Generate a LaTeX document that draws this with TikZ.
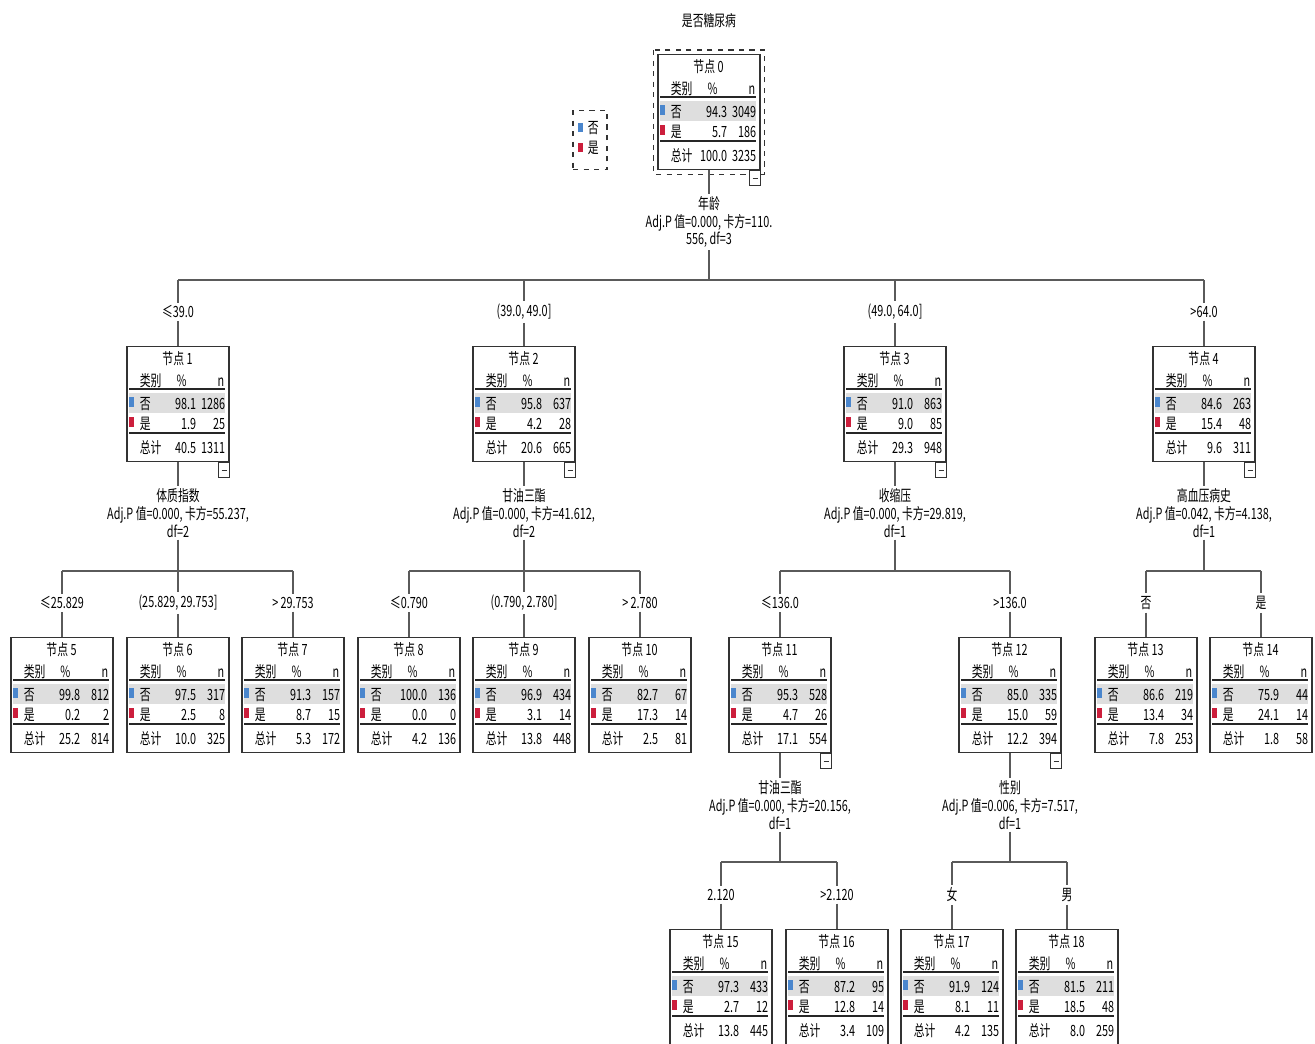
\documentclass[tikz,border=0pt]{standalone}
\usepackage{fontspec}
\setmainfont{Noto Sans CJK SC}[FakeStretch=0.7]
\usetikzlibrary{calc,positioning}
\definecolor{nocol}{RGB}{74,134,205}
\definecolor{yescol}{RGB}{204,30,60}
\definecolor{rowgray}{RGB}{222,222,222}
\definecolor{linkgray}{RGB}{90,90,90}
\tikzset{
  treebox/.style={draw=black!80,line width=0.6pt,fill=white,inner sep=0pt,
    minimum width=2.04cm,minimum height=2.3cm,anchor=north},
  cell/.style={inner sep=0pt,text height=6.5pt,text depth=1pt},
  rule/.style={line width=0.9pt,black!85},
  link/.style={linkgray,line width=0.6pt},
  split/.style={align=center,inner sep=1pt,font=\fontsize{8.8}{10.2}\selectfont},
  branch/.style={inner sep=1.5pt,fill=white}
}
% one tree node: name, position, number, no %, no n, yes %, yes n, total %, total n
\newcommand{\treenode}[9]{%
  \node[treebox] (#1) at #2 {};
  \fill[rowgray] ($(#1.north west)+(3,47)$) rectangle ($(#1.north west)+(99,67)$);
  \draw[rule] ($(#1.north west)+(3,43)$) -- ($(#1.north west)+(99,43)$);
  \draw[rule] ($(#1.north west)+(3,87)$) -- ($(#1.north west)+(99,87)$);
  \node[cell] (#1-title) at ($(#1.north west)+(51,14)$) {节点 #3};
  \node[cell,anchor=west] (#1-cat) at ($(#1.north west)+(13,36)$) {类别};
  \node[cell] (#1-pct) at ($(#1.north west)+(55,36)$) {\%};
  \node[cell,anchor=east] (#1-n) at ($(#1.north west)+(98,36)$) {n};
  \fill[nocol] ($(#1.north west)+(3,51)$) rectangle ($(#1.north west)+(8,61)$);
  \node[cell,anchor=west] (#1-no) at ($(#1.north west)+(13,58.5)$) {否};
  \node[cell,anchor=east] (#1-nop) at ($(#1.north west)+(70,58.5)$) {#4};
  \node[cell,anchor=east] (#1-non) at ($(#1.north west)+(99,58.5)$) {#5};
  \fill[yescol] ($(#1.north west)+(3,71)$) rectangle ($(#1.north west)+(8,81)$);
  \node[cell,anchor=west] (#1-yes) at ($(#1.north west)+(13,78.5)$) {是};
  \node[cell,anchor=east] (#1-yesp) at ($(#1.north west)+(70,78.5)$) {#6};
  \node[cell,anchor=east] (#1-yesn) at ($(#1.north west)+(99,78.5)$) {#7};
  \node[cell,anchor=west] (#1-tot) at ($(#1.north west)+(13,103)$) {总计};
  \node[cell,anchor=east] (#1-totp) at ($(#1.north west)+(70,103)$) {#8};
  \node[cell,anchor=east] (#1-totn) at ($(#1.north west)+(99,103)$) {#9};
}
% collapse button under a node
\newcommand{\collapse}[1]{%
  \draw[black!80,line width=0.6pt,fill=white] ($(#1.south east)+(-11,0)$) rectangle ($(#1.south east)+(0,15)$);
  \draw[black!80,line width=0.6pt] ($(#1.south east)+(-8,8)$) -- ($(#1.south east)+(-3,8)$);
}

\begin{document}
\begin{tikzpicture}[x=0.02cm,y=-0.02cm,font=\fontsize{8.8}{10.2}\selectfont]
\useasboundingbox (0,0) rectangle (1315,1044);
\node (title) at (709,21) {是否糖尿病};

% ---------------- legend ----------------
\node[draw=black!80,dashed,line width=0.6pt,minimum width=0.68cm,minimum height=1.18cm] (legend) at (590,140) {};
\fill[nocol] ($(legend.north west)+(6,13)$) rectangle ($(legend.north west)+(11,22)$);
\node[cell,anchor=west] (legno) at ($(legend.north west)+(15,19)$) {否};
\fill[yescol] ($(legend.north west)+(6,33)$) rectangle ($(legend.north west)+(11,42)$);
\node[cell,anchor=west] (legyes) at ($(legend.north west)+(15,39)$) {是};

% ---------------- root ----------------
\treenode{n0}{(709,54)}{0}{94.3}{3049}{5.7}{186}{100.0}{3235}
\draw[black!80,dashed,line width=0.6pt] ($(n0.north west)+(-4,-4)$) rectangle ($(n0.south east)+(4,4)$);
\collapse{n0}
\node[split] (s0) at (709,222) {年龄\\Adj.P 值=0.000, 卡方=110.\\556, df=3};

% ---------------- level 1 ----------------
\treenode{n1}{(178,346)}{1}{98.1}{1286}{1.9}{25}{40.5}{1311}
\treenode{n2}{(524,346)}{2}{95.8}{637}{4.2}{28}{20.6}{665}
\treenode{n3}{(895,346)}{3}{91.0}{863}{9.0}{85}{29.3}{948}
\treenode{n4}{(1204,346)}{4}{84.6}{263}{15.4}{48}{9.6}{311}
\collapse{n1}\collapse{n2}\collapse{n3}\collapse{n4}
\node[branch] (b1) at (178,312) {≤39.0};
\node[branch] (b2) at (524,312) {(39.0, 49.0]};
\node[branch] (b3) at (895,312) {(49.0, 64.0]};
\node[branch] (b4) at (1204,312) {>64.0};
\node[split] (s1) at (178,513) {体质指数\\Adj.P 值=0.000, 卡方=55.237,\\df=2};
\node[split] (s2) at (524,513) {甘油三酯\\Adj.P 值=0.000, 卡方=41.612,\\df=2};
\node[split] (s3) at (895,513) {收缩压\\Adj.P 值=0.000, 卡方=29.819,\\df=1};
\node[split] (s4) at (1204,513) {高血压病史\\Adj.P 值=0.042, 卡方=4.138,\\df=1};

% ---------------- level 2 ----------------
\treenode{n5}{(62,637)}{5}{99.8}{812}{0.2}{2}{25.2}{814}
\treenode{n6}{(178,637)}{6}{97.5}{317}{2.5}{8}{10.0}{325}
\treenode{n7}{(293,637)}{7}{91.3}{157}{8.7}{15}{5.3}{172}
\treenode{n8}{(409,637)}{8}{100.0}{136}{0.0}{0}{4.2}{136}
\treenode{n9}{(524,637)}{9}{96.9}{434}{3.1}{14}{13.8}{448}
\treenode{n10}{(640,637)}{10}{82.7}{67}{17.3}{14}{2.5}{81}
\treenode{n11}{(780,637)}{11}{95.3}{528}{4.7}{26}{17.1}{554}
\treenode{n12}{(1010,637)}{12}{85.0}{335}{15.0}{59}{12.2}{394}
\treenode{n13}{(1146,637)}{13}{86.6}{219}{13.4}{34}{7.8}{253}
\treenode{n14}{(1261,637)}{14}{75.9}{44}{24.1}{14}{1.8}{58}
\collapse{n11}\collapse{n12}
\node[branch] (b5) at (62,603) {≤25.829};
\node[branch] (b6) at (178,603) {(25.829, 29.753]};
\node[branch] (b7) at (293,603) {> 29.753};
\node[branch] (b8) at (409,603) {≤0.790};
\node[branch] (b9) at (524,603) {(0.790, 2.780]};
\node[branch] (b10) at (640,603) {> 2.780};
\node[branch] (b11) at (780,603) {≤136.0};
\node[branch] (b12) at (1010,603) {>136.0};
\node[branch] (b13) at (1146,603) {否};
\node[branch] (b14) at (1261,603) {是};
\node[split] (s11) at (780,805) {甘油三酯\\Adj.P 值=0.000, 卡方=20.156,\\df=1};
\node[split] (s12) at (1010,805) {性别\\Adj.P 值=0.006, 卡方=7.517,\\df=1};

% ---------------- level 3 ----------------
\treenode{n15}{(721,929)}{15}{97.3}{433}{2.7}{12}{13.8}{445}
\treenode{n16}{(837,929)}{16}{87.2}{95}{12.8}{14}{3.4}{109}
\treenode{n17}{(952,929)}{17}{91.9}{124}{8.1}{11}{4.2}{135}
\treenode{n18}{(1067,929)}{18}{81.5}{211}{18.5}{48}{8.0}{259}
\node[branch] (b15) at (721,895) {2.120};
\node[branch] (b16) at (837,895) {>2.120};
\node[branch] (b17) at (952,895) {女};
\node[branch] (b18) at (1067,895) {男};

% ---------------- connectors ----------------
\coordinate (bar0) at (0,280);
\coordinate (bar1) at (0,571);
\coordinate (bar3) at (0,862);
\draw[link] (n0.south) -- (s0.north);
\draw[link] (s0.south) -- (s0.south |- bar0);
\draw[link] (b1.north |- bar0) -- (b4.north |- bar0);
\foreach \i in {1,2,3,4} {
  \draw[link] (b\i.north |- bar0) -- (b\i.north);
  \draw[link] (b\i.south) -- (n\i.north);
  \draw[link] (n\i.south) -- (s\i.north);
  \draw[link] (s\i.south) -- (s\i.south |- bar1);
}
\draw[link] (b5.north |- bar1) -- (b7.north |- bar1);
\draw[link] (b8.north |- bar1) -- (b10.north |- bar1);
\draw[link] (b11.north |- bar1) -- (b12.north |- bar1);
\draw[link] (b13.north |- bar1) -- (b14.north |- bar1);
\foreach \i in {5,...,14} {
  \draw[link] (b\i.north |- bar1) -- (b\i.north);
  \draw[link] (b\i.south) -- (n\i.north);
}
\draw[link] (n11.south) -- (s11.north);
\draw[link] (n12.south) -- (s12.north);
\draw[link] (s11.south) -- (s11.south |- bar3);
\draw[link] (s12.south) -- (s12.south |- bar3);
\draw[link] (b15.north |- bar3) -- (b16.north |- bar3);
\draw[link] (b17.north |- bar3) -- (b18.north |- bar3);
\foreach \i in {15,...,18} {
  \draw[link] (b\i.north |- bar3) -- (b\i.north);
  \draw[link] (b\i.south) -- (n\i.north);
}
\end{tikzpicture}
\end{document}
